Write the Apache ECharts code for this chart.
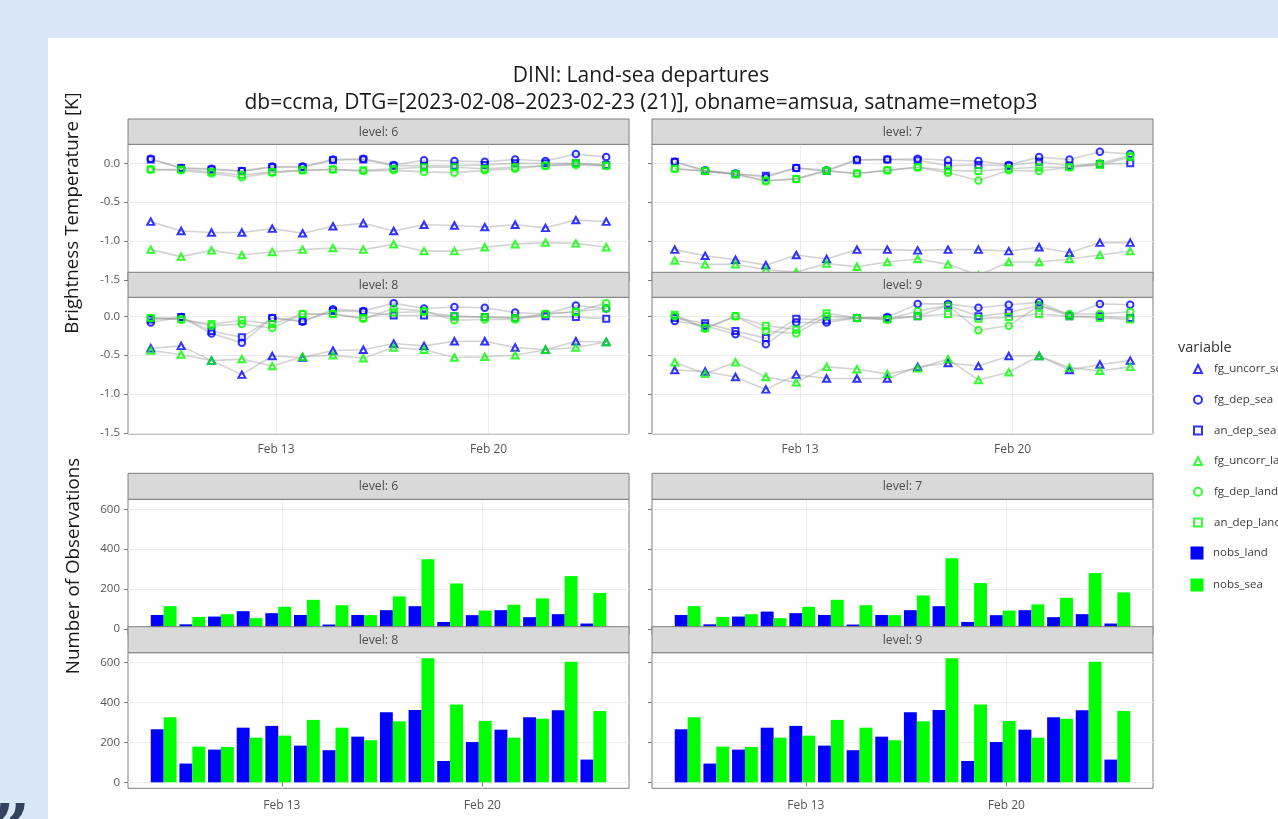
<!DOCTYPE html>
<html>
<head>
<meta charset="utf-8">
<script src="https://cdn.jsdelivr.net/npm/echarts@6/dist/echarts.min.js"></script>
<style>
html,body{margin:0;padding:0;background:#d9e7f9;}
#c{width:1278px;height:819px;}
</style>
</head>
<body>
<div id="c"></div>
<script>
// ---------------- DATA ----------------
const dates = ['2023-02-08','2023-02-09','2023-02-10','2023-02-11','2023-02-12','2023-02-13','2023-02-14','2023-02-15',
               '2023-02-16','2023-02-17','2023-02-18','2023-02-19','2023-02-20','2023-02-21','2023-02-22','2023-02-23'];
const obsHour = 'T21:00:00';
const levels = ['6','7','8','9'];

// level 6
const fg_uncorr_sea_L6  = [-0.75,-0.87,-0.89,-0.89,-0.84,-0.90,-0.81,-0.77,-0.87,-0.79,-0.80,-0.82,-0.79,-0.83,-0.73,-0.75];
const fg_dep_sea_L6     = [0.06,-0.06,-0.07,-0.10,-0.04,-0.04,0.05,0.06,-0.02,0.04,0.03,0.02,0.05,0.03,0.12,0.08];
const an_dep_sea_L6     = [0.05,-0.06,-0.08,-0.10,-0.05,-0.05,0.04,0.05,-0.03,-0.03,-0.03,-0.02,0.00,0.00,0.00,-0.02];
const fg_uncorr_land_L6 = [-1.11,-1.20,-1.12,-1.18,-1.14,-1.11,-1.09,-1.11,-1.04,-1.13,-1.13,-1.08,-1.04,-1.02,-1.03,-1.08];
const fg_dep_land_L6    = [-0.08,-0.09,-0.13,-0.18,-0.12,-0.09,-0.08,-0.10,-0.09,-0.11,-0.12,-0.09,-0.07,-0.03,-0.02,-0.03];
const an_dep_land_L6    = [-0.08,-0.08,-0.11,-0.15,-0.11,-0.09,-0.08,-0.09,-0.07,-0.05,-0.05,-0.07,-0.05,-0.03,0.00,-0.03];
// level 7
const fg_uncorr_sea_L7  = [-1.11,-1.19,-1.24,-1.31,-1.18,-1.23,-1.11,-1.11,-1.12,-1.11,-1.11,-1.13,-1.08,-1.15,-1.02,-1.02];
const fg_dep_sea_L7     = [0.02,-0.09,-0.13,-0.18,-0.06,-0.09,0.05,0.05,0.06,0.04,0.03,-0.02,0.08,0.05,0.15,0.12];
const an_dep_sea_L7     = [0.02,-0.10,-0.14,-0.16,-0.06,-0.10,0.04,0.05,0.04,-0.03,-0.02,-0.03,0.02,-0.03,-0.01,0.00];
const fg_uncorr_land_L7 = [-1.25,-1.30,-1.30,-1.37,-1.40,-1.29,-1.33,-1.27,-1.23,-1.30,-1.44,-1.27,-1.27,-1.23,-1.18,-1.13];
const fg_dep_land_L7    = [-0.07,-0.10,-0.14,-0.23,-0.20,-0.09,-0.13,-0.09,-0.05,-0.12,-0.22,-0.09,-0.10,-0.05,0.00,0.10];
const an_dep_land_L7    = [-0.07,-0.10,-0.14,-0.22,-0.20,-0.10,-0.13,-0.09,-0.05,-0.09,-0.10,-0.07,-0.05,-0.05,-0.02,0.08];
// level 8
const fg_uncorr_sea_L8  = [-0.41,-0.38,-0.57,-0.75,-0.51,-0.53,-0.44,-0.43,-0.35,-0.38,-0.32,-0.32,-0.40,-0.43,-0.32,-0.33];
const fg_dep_sea_L8     = [-0.08,-0.01,-0.22,-0.34,-0.02,-0.07,0.09,0.07,0.17,0.10,0.12,0.11,0.05,0.03,0.14,0.10];
const an_dep_sea_L8     = [-0.04,-0.01,-0.19,-0.27,-0.02,-0.06,0.07,0.06,0.01,0.01,0.00,-0.01,-0.02,0.00,-0.01,-0.03];
const fg_uncorr_land_L8 = [-0.44,-0.49,-0.57,-0.55,-0.64,-0.52,-0.50,-0.54,-0.40,-0.43,-0.53,-0.52,-0.50,-0.43,-0.40,-0.33];
const fg_dep_land_L8    = [-0.02,-0.04,-0.12,-0.10,-0.15,0.03,0.03,-0.03,0.10,0.07,-0.05,-0.04,-0.04,0.03,0.06,0.17];
const an_dep_land_L8    = [-0.02,-0.04,-0.10,-0.05,-0.10,0.03,0.03,-0.02,0.05,0.06,0.00,-0.01,-0.02,0.03,0.06,0.10];
// level 9
const fg_uncorr_sea_L9  = [-0.69,-0.71,-0.78,-0.94,-0.75,-0.80,-0.80,-0.80,-0.65,-0.60,-0.64,-0.51,-0.51,-0.69,-0.62,-0.57];
const fg_dep_sea_L9     = [-0.06,-0.12,-0.23,-0.36,-0.08,-0.08,-0.02,-0.01,0.16,0.16,0.11,0.15,0.18,0.01,0.16,0.15];
const an_dep_sea_L9     = [-0.02,-0.09,-0.19,-0.28,-0.03,-0.05,-0.02,-0.02,0.00,0.14,0.00,0.05,0.14,0.00,0.00,-0.02];
const fg_uncorr_land_L9 = [-0.59,-0.74,-0.59,-0.78,-0.85,-0.65,-0.68,-0.74,-0.67,-0.55,-0.82,-0.72,-0.51,-0.66,-0.70,-0.65];
const fg_dep_land_L9    = [0.00,-0.16,0.00,-0.19,-0.22,0.00,-0.02,-0.04,0.07,0.14,-0.18,-0.12,0.14,0.03,0.03,0.06];
const an_dep_land_L9    = [0.02,-0.15,0.00,-0.12,-0.17,0.04,-0.02,-0.04,0.00,0.03,-0.03,-0.01,0.03,0.00,-0.02,-0.04];

// number of observations
const nobs_land_L6 = [70,23,62,89,79,70,22,70,94,114,35,69,94,59,74,27];
const nobs_sea_L6  = [114,60,74,54,111,146,119,69,163,349,228,92,121,153,265,180];
const nobs_land_L7 = [70,23,62,87,79,70,22,70,94,114,35,69,94,59,74,27];
const nobs_sea_L7  = [114,60,74,54,111,146,119,69,168,354,230,92,123,156,280,183];
const nobs_land_L8 = [266,94,164,274,283,184,161,229,351,363,107,202,264,326,361,114];
const nobs_sea_L8  = [326,179,177,224,234,313,274,211,306,622,390,308,224,319,605,358];
const nobs_land_L9 = [266,94,164,274,283,184,161,229,351,363,107,202,264,326,361,114];
const nobs_sea_L9  = [326,179,177,224,234,313,274,211,306,622,390,308,224,319,605,358];

// tick labels
const depTicks  = [-1.5, -1.0, -0.5, 0.0];
const nobsTicks = [0, 200, 400, 600];
const xTickDates  = ['2023-02-13','2023-02-20'];
const xTickLabels = ['Feb 13','Feb 20'];

const titleLine1 = 'DINI: Land-sea departures';
const titleLine2 = 'db=ccma, DTG=[2023-02-08\u20132023-02-23 (21)], obname=amsua, satname=metop3';

// ---------------- STYLE / LAYOUT ----------------
const BLUE = '#0000ff', GREEN = '#00ff00';
const FONT = '"Open Sans", "Noto Sans", sans-serif';
const TXT = '#555555';
const pointVars = [
  {name:'fg_uncorr_sea',  color:BLUE,  symbol:'triangle', size:[7,6.5], vals:[fg_uncorr_sea_L6,fg_uncorr_sea_L7,fg_uncorr_sea_L8,fg_uncorr_sea_L9]},
  {name:'fg_dep_sea',     color:BLUE,  symbol:'circle',   size:6.5,     vals:[fg_dep_sea_L6,fg_dep_sea_L7,fg_dep_sea_L8,fg_dep_sea_L9]},
  {name:'an_dep_sea',     color:BLUE,  symbol:'rect',     size:6,       vals:[an_dep_sea_L6,an_dep_sea_L7,an_dep_sea_L8,an_dep_sea_L9]},
  {name:'fg_uncorr_land', color:GREEN, symbol:'triangle', size:[7,6.5], vals:[fg_uncorr_land_L6,fg_uncorr_land_L7,fg_uncorr_land_L8,fg_uncorr_land_L9]},
  {name:'fg_dep_land',    color:GREEN, symbol:'circle',   size:6.5,     vals:[fg_dep_land_L6,fg_dep_land_L7,fg_dep_land_L8,fg_dep_land_L9]},
  {name:'an_dep_land',    color:GREEN, symbol:'rect',     size:6,       vals:[an_dep_land_L6,an_dep_land_L7,an_dep_land_L8,an_dep_land_L9]}
];
const barVars = [
  {name:'nobs_land', color:BLUE,  vals:[nobs_land_L6,nobs_land_L7,nobs_land_L8,nobs_land_L9]},
  {name:'nobs_sea',  color:GREEN, vals:[nobs_sea_L6,nobs_sea_L7,nobs_sea_L8,nobs_sea_L9]}
];

const P = echarts.time.parse;
const T = s => +P(s);
const obsTimes = dates.map(d => T(d + obsHour));
const upXMin = T('2023-02-08T03:00:00'), upXMax = T('2023-02-24T15:00:00');
const loXMin = T('2023-02-07T15:07:00'), loXMax = T('2023-02-25T02:53:00');
const xTickVals = xTickDates.map(d => T(d + 'T00:00:00'));
const xFmt = v => { let best = 0; xTickVals.forEach((t,i)=>{ if (Math.abs(t-v) < Math.abs(xTickVals[best]-v)) best = i; }); return xTickLabels[best]; };

const colX = [128, 652];
const PW = 501;
const upperRows = [{top:144.3, h:136.7, stripY:119, stripH:25.3}, {top:297.3, h:136.7, stripY:272.3, stripH:25}];
const lowerRows = [{top:499.3, h:135.6, stripY:473.3, stripH:26}, {top:652.7, h:135.6, stripY:626.7, stripH:26}];

const grids = [], xAxes = [], yAxes = [], series = [], graphics = [];

graphics.push({type:'rect', z:-100, shape:{x:48, y:38, width:1240, height:790}, style:{fill:'#ffffff'}});
graphics.push({type:'text', z:-50, x:-9, y:800, style:{text:'\u201D', font:'bold 68px "DejaVu Serif"', fill:'#33435f', align:'left', verticalAlign:'top'}});

function addPanel(kind, li) {
  const r = Math.floor(li / 2), c = li % 2;
  const row = (kind === 'up' ? upperRows : lowerRows)[r];
  const g = grids.length;
  grids.push({left:colX[c], top:row.top, width:PW, height:row.h, show:true, backgroundColor:'#ffffff',
              borderColor:'#7f7f7f', borderWidth:1, containLabel:false});
  const isBottom = r === 1, isLeft = c === 0;
  xAxes.push({
    type:'value', gridIndex:g,
    min: kind === 'up' ? upXMin : loXMin, max: kind === 'up' ? upXMax : loXMax,
    axisLine:{show:false},
    axisTick:{show:isBottom, length:4, lineStyle:{color:'#777'}, customValues:xTickVals},
    axisLabel:{show:isBottom, customValues:xTickVals, formatter:xFmt, margin: kind === 'up' ? 10 : 11,
               fontSize:12, fontFamily:FONT, color:TXT},
    splitLine:{show:true, lineStyle:{color:'#ebebeb', width:1}}
  });
  if (kind === 'up') {
    yAxes.push({
      type:'value', gridIndex:g, min:-1.514, max:0.245,
      axisLine:{show:false},
      axisTick:{show:true, length:4, lineStyle:{color:'#777'}, customValues:depTicks},
      axisLabel:{show:isLeft, customValues:depTicks, formatter:v => v.toFixed(1), margin:8, fontSize:11.5, fontFamily:FONT, color:TXT},
      splitLine:{show:true, lineStyle:{color:'#ebebeb', width:1}}
    });
    pointVars.forEach(v => {
      const data = obsTimes.map((t,i) => [t, v.vals[li][i]]);
      series.push({type:'line', name:'line_' + v.name, xAxisIndex:g, yAxisIndex:g, data:data,
        symbol:'none', showSymbol:false, silent:true, z:2,
        lineStyle:{color:'rgba(150,150,150,0.42)', width:1.6}});
    });
    pointVars.forEach(v => {
      const data = obsTimes.map((t,i) => [t, v.vals[li][i]]);
      series.push({type:'scatter', name:v.name, xAxisIndex:g, yAxisIndex:g, data:data,
        symbol:v.symbol, symbolSize:v.size, z:3,
        itemStyle:{color:'rgba(255,255,255,0)', borderColor:v.color, borderWidth:2}});
    });
  } else {
    yAxes.push({
      type:'value', gridIndex:g, min:-30, max:650,
      axisLine:{show:false},
      axisTick:{show:true, length:4, lineStyle:{color:'#777'}, customValues:nobsTicks},
      axisLabel:{show:isLeft, customValues:nobsTicks, margin:8, fontSize:11.5, fontFamily:FONT, color:TXT},
      splitLine:{show:true, lineStyle:{color:'#ebebeb', width:1}}
    });
    barVars.forEach(v => {
      const data = obsTimes.map((t,i) => [t, v.vals[li][i]]);
      series.push({type:'bar', name:v.name, xAxisIndex:g, yAxisIndex:g, data:data,
        barWidth:12.9, barGap:'0%', z:2, itemStyle:{color:v.color}});
    });
  }
  graphics.push({type:'rect', z:100, shape:{x:colX[c], y:row.stripY, width:PW, height:row.stripH},
                 style:{fill:'#d9d9d9', stroke:'#7f7f7f', lineWidth:1}});
  graphics.push({type:'text', z:101, x:colX[c] + PW/2, y:row.stripY + row.stripH/2 + 0.5,
                 style:{text:'level: ' + levels[li], font:'12.3px ' + FONT, fill:'#4d4d4d', align:'center', verticalAlign:'middle'}});
}
for (let li = 0; li < 4; li++) addPanel('up', li);
for (let li = 0; li < 4; li++) addPanel('lo', li);

graphics.push({type:'text', z:10, x:641, y:76, style:{text:titleLine1, font:'21px ' + FONT, fill:'#1a1a1a', align:'center', verticalAlign:'middle'}});
graphics.push({type:'text', z:10, x:641, y:103, style:{text:titleLine2, font:'21px ' + FONT, fill:'#1a1a1a', align:'center', verticalAlign:'middle'}});
graphics.push({type:'text', z:10, x:73, y:213, rotation:Math.PI/2, style:{text:'Brightness Temperature [K]', font:'18.8px ' + FONT, fill:'#1a1a1a', align:'center', verticalAlign:'middle'}});
graphics.push({type:'text', z:10, x:74, y:566, rotation:Math.PI/2, style:{text:'Number of Observations', font:'18.8px ' + FONT, fill:'#1a1a1a', align:'center', verticalAlign:'middle'}});
graphics.push({type:'text', z:10, x:1178, y:348, style:{text:'variable', font:'14.5px ' + FONT, fill:'#333333', align:'left', verticalAlign:'middle'}});

const chart = echarts.init(document.getElementById('c'), null, {renderer:'canvas'});
chart.setOption({
  backgroundColor:'#d9e7f9',
  animation:false,
  grid:grids, xAxis:xAxes, yAxis:yAxes, series:series, graphic:graphics,
  legend:[
    {orient:'vertical', left:1193, top:362, padding:0, itemWidth:8, itemHeight:8, itemGap:16.7,
     textStyle:{fontSize:11.5, lineHeight:14, fontFamily:FONT, color:'#3c3c3c', padding:[0,0,0,7]},
     data:pointVars.map(v => ({name:v.name, icon:v.symbol,
        itemStyle:{color:'rgba(255,255,255,0)', borderColor:v.color, borderWidth:2}}))},
    {orient:'vertical', left:1190.5, top:546, padding:0, itemWidth:13, itemHeight:13, itemGap:18,
     textStyle:{fontSize:11.5, lineHeight:14, fontFamily:FONT, color:'#3c3c3c', padding:[0,0,0,4.5]},
     data:barVars.map(v => ({name:v.name, icon:'rect', itemStyle:{color:v.color}}))}
  ]
});
</script>
</body>
</html>
